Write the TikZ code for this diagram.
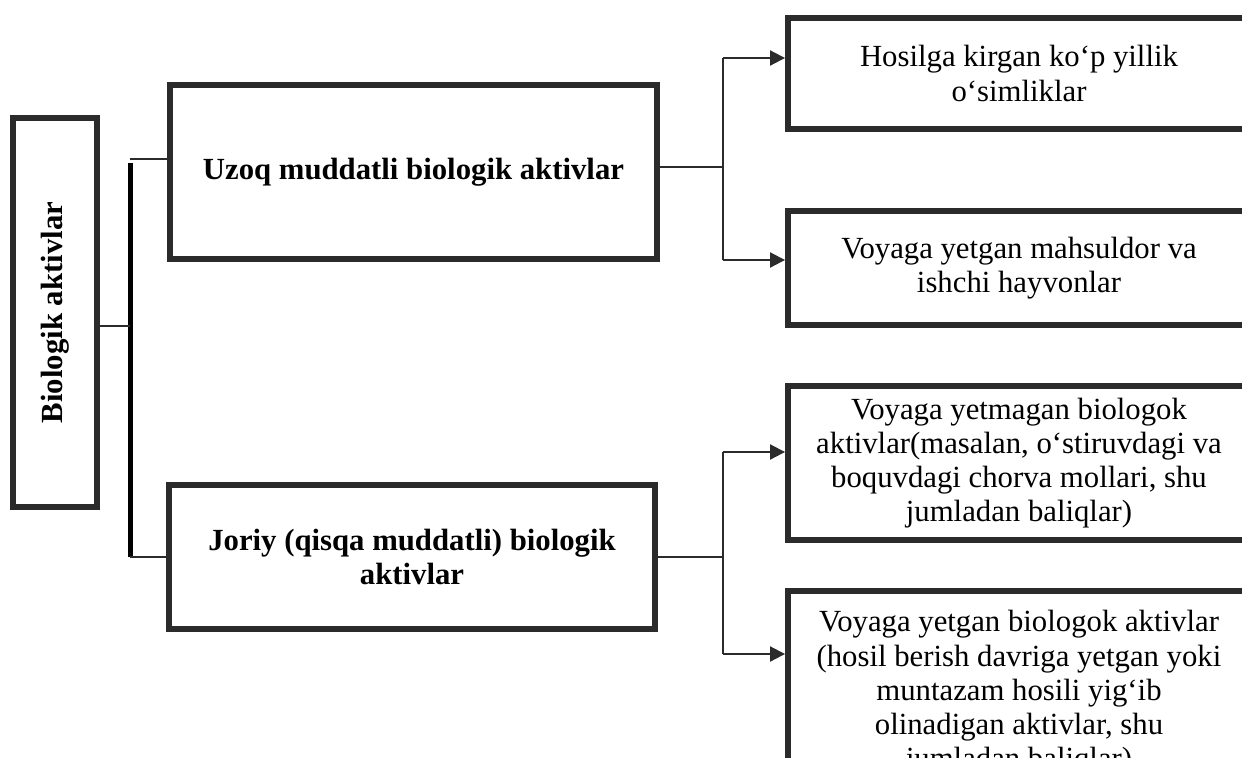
\documentclass[tikz,border=0pt]{standalone}
\usepackage{fontspec}
\setmainfont{Liberation Serif}
\usepackage{graphicx}
\usetikzlibrary{arrows.meta}
\definecolor{dgray}{rgb}{0.17,0.17,0.17}

\begin{document}
\begin{tikzpicture}[x=0.02cm, y=-0.02cm,
	box/.style={draw=dgray, line width=0.12cm, inner sep=0pt, align=center, font={\fontsize{17.5}{19.5}\selectfont}},
	boldbox/.style={box, font={\fontsize{17.5}{19.5}\selectfont\bfseries}},
	link/.style={draw=dgray, line width=0.04cm},
	arr/.style={link, -{Triangle[length=0.3cm, width=0.3cm]}},
	bus/.style={draw=black, line width=0.1cm}]
			\useasboundingbox (0,0) rectangle (1242,758);
			\node[boldbox, minimum width=1.68cm, minimum height=7.78cm] (bio) at (55,312.5) {\rotatebox{90}{Biologik aktivlar}};
			\node[boldbox, minimum width=9.74cm, minimum height=3.48cm] (uzoq) at (413.5,172) {Uzoq muddatli biologik aktivlar};
			\node[boldbox, minimum width=9.72cm, minimum height=2.88cm] (joriy) at (412,557) {Joriy (qisqa muddatli) biologik\\aktivlar};
			\node[box, minimum width=9.24cm, minimum height=2.22cm] (a) at (1019,73.5) {Hosilga kirgan ko‘p yillik\\o‘simliklar};
			\node[box, minimum width=9.24cm, minimum height=2.28cm] (b) at (1019,268) {Voyaga yetgan mahsuldor va\\ishchi hayvonlar};
			\node[box, minimum width=9.24cm, minimum height=3.08cm] (c) at (1019,463) {Voyaga yetmagan biologok\\aktivlar(masalan, o‘stiruvdagi va\\boquvdagi chorva mollari, shu\\jumladan baliqlar)};
			\node[box, minimum width=9.24cm, minimum height=4.08cm] (d) at (1019,693) {Voyaga yetgan biologok aktivlar\\(hosil berish davriga yetgan yoki\\muntazam hosili yig‘ib\\olinadigan aktivlar, shu\\jumladan baliqlar)};
			\coordinate (bt) at (130,159);
			\coordinate (bm) at (130,326);
			\coordinate (bb) at (130,557);
			\coordinate (uf) at (723,167);
			\coordinate (ua) at (723,58);
			\coordinate (ub) at (723,260);
			\coordinate (jc) at (723,452);
			\coordinate (jd) at (723,654);
			\draw[bus] ([yshift=-0.08cm]bt) -- (bb);
			\draw[link] (bm -| bio.east) -- (bm);
			\draw[link] (bt) -- (bt -| uzoq.west);
			\draw[link] (bb) -- (bb -| joriy.west);
			\draw[link] (uf -| uzoq.east) -- (uf);
			\draw[link] (ua) -- (ub);
			\draw[arr] (ua) -- (ua -| a.west);
			\draw[arr] (ub) -- (ub -| b.west);
			\draw[link] (joriy.east) -- (joriy.east -| jc);
			\draw[link] (jc) -- (jd);
			\draw[arr] (jc) -- (jc -| c.west);
			\draw[arr] (jd) -- (jd -| d.west);
		\end{tikzpicture}
\end{document}
